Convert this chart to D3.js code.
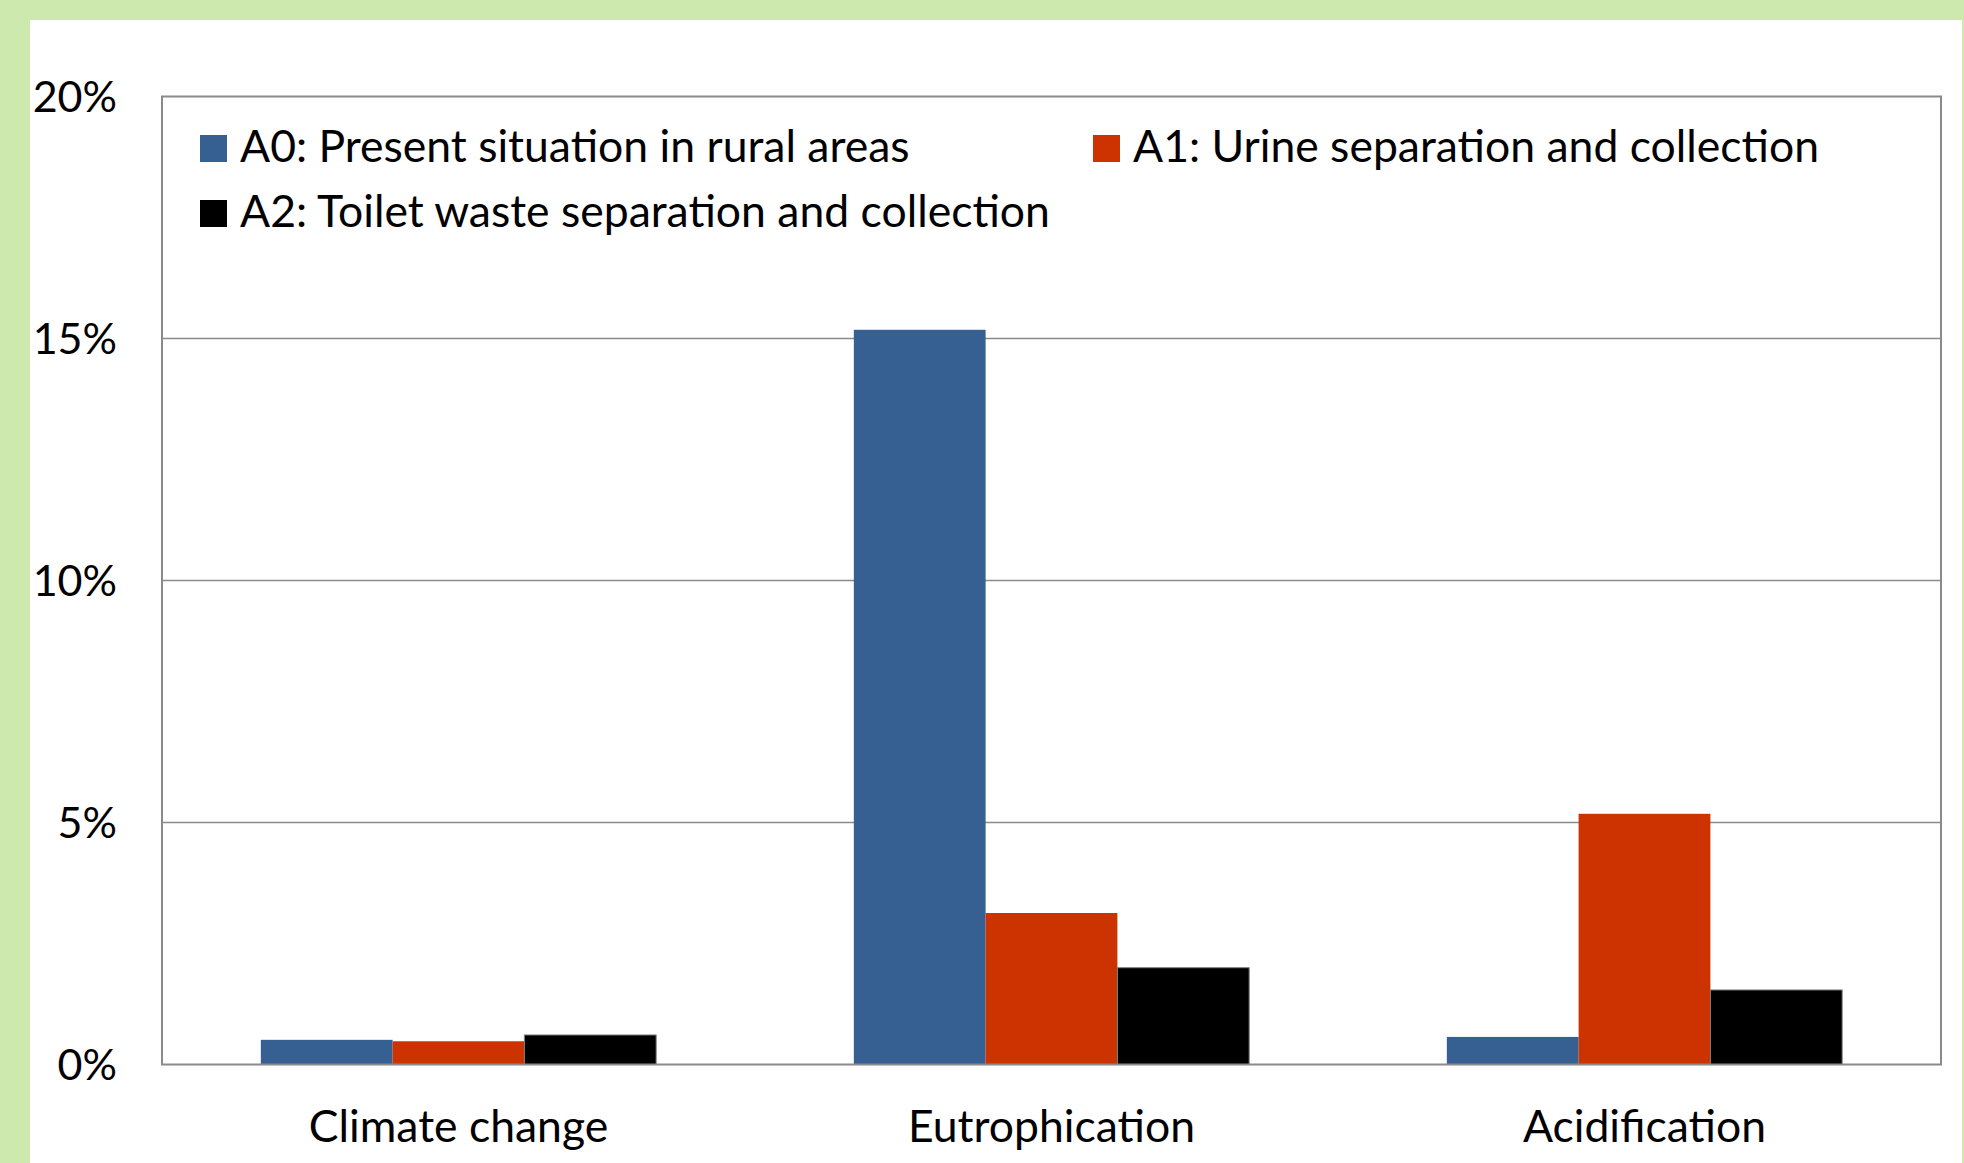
<!DOCTYPE html>
<html>
<head>
<meta charset="utf-8">
<script src="https://cdn.jsdelivr.net/npm/d3@7"></script>
<style>
  html, body { margin: 0; padding: 0; background: #cde9ae; }
  svg { display: block; }
  text { font-family: Lato, "Open Sans", sans-serif; fill: #000; }
</style>
</head>
<body>
<svg id="chart" width="1964" height="1163"></svg>
<script>
// Impact categories on the x axis
const categories = ["Climate change", "Eutrophication", "Acidification"];

// Scenario series (share of impact, %)
const seriesNames = [
  "A0: Present situation in rural areas",
  "A1: Urine separation and collection",
  "A2: Toilet waste separation and collection"
];
const seriesColors = ["#376092", "#cc3300", "#000000"];
const a0Values = [0.51, 15.18, 0.57];
const a1Values = [0.48, 3.13, 5.18];
const a2Values = [0.61, 2.00, 1.54];

// Y axis ticks
const yTicks = [0, 5, 10, 15, 20];

const seriesValues = [a0Values, a1Values, a2Values];
const rows = categories.map((c, i) => ({
  category: c,
  values: seriesNames.map((s, j) => ({ series: s, idx: j, value: seriesValues[j][i] }))
}));

const svg = d3.select("#chart");

// white chart panel on the green page
svg.append("rect")
  .attr("x", 30).attr("y", 20)
  .attr("width", 1932).attr("height", 1163)
  .attr("fill", "#ffffff");

const plot = { left: 162, right: 1941, top: 96.5, bottom: 1064.5 };

const x0 = d3.scaleBand()
  .domain(categories)
  .range([plot.left, plot.right])
  .padding(0);

const x1 = d3.scaleBand()
  .domain(d3.range(seriesNames.length))
  .range([0, x0.bandwidth()])
  .paddingInner(0)
  .paddingOuter(0.75);

const y = d3.scaleLinear()
  .domain([0, 20])
  .range([plot.bottom, plot.top]);

// gridlines
svg.append("g")
  .selectAll("line")
  .data(yTicks.filter(t => t > 0 && t < 20))
  .join("line")
  .attr("x1", plot.left).attr("x2", plot.right)
  .attr("y1", d => y(d)).attr("y2", d => y(d))
  .attr("stroke", "#8a8a8a")
  .attr("stroke-width", 1.5);

// y tick labels
const yAxis = d3.axisLeft(y)
  .tickValues(yTicks)
  .tickSize(0)
  .tickPadding(45)
  .tickFormat(d => d + "%");

const yg = svg.append("g")
  .attr("transform", `translate(${plot.left},0)`)
  .call(yAxis);
yg.select(".domain").remove();
yg.selectAll("text")
  .style("font-family", "Lato, 'Open Sans', sans-serif")
  .style("font-size", "43px")
  .attr("fill", "#000")
  .attr("dy", "0.36em");

// bars
const groups = svg.append("g")
  .selectAll("g")
  .data(rows)
  .join("g")
  .attr("transform", d => `translate(${x0(d.category)},0)`);

groups.selectAll("rect")
  .data(d => d.values)
  .join("rect")
  .attr("x", d => x1(d.idx))
  .attr("width", x1.bandwidth())
  .attr("y", d => y(d.value))
  .attr("height", d => y(0) - y(d.value))
  .attr("fill", d => seriesColors[d.idx])
  .attr("stroke", d => d.idx === 2 ? "#7f7f7f" : "none")
  .attr("stroke-width", 1);

// plot frame
svg.append("rect")
  .attr("x", plot.left).attr("y", plot.top)
  .attr("width", plot.right - plot.left)
  .attr("height", plot.bottom - plot.top)
  .attr("fill", "none")
  .attr("stroke", "#8a8a8a")
  .attr("stroke-width", 2);

// category labels
const xAxis = d3.axisBottom(x0).tickSize(0).tickPadding(0);
const xg = svg.append("g")
  .attr("transform", `translate(0,${plot.bottom})`)
  .call(xAxis);
xg.select(".domain").remove();
xg.selectAll("text")
  .style("font-family", "Lato, 'Open Sans', sans-serif")
  .style("font-size", "44.5px")
  .attr("fill", "#000")
  .attr("dy", null)
  .attr("y", 77);

// legend
const legendItems = [
  { idx: 0, x: 200, y: 135 },
  { idx: 1, x: 1093, y: 135 },
  { idx: 2, x: 200, y: 200 }
];
const lg = svg.append("g")
  .selectAll("g")
  .data(legendItems)
  .join("g")
  .attr("transform", d => `translate(${d.x},${d.y})`);
lg.append("rect")
  .attr("width", 27).attr("height", 27)
  .attr("fill", d => seriesColors[d.idx]);
lg.append("text")
  .attr("x", 40)
  .attr("y", 27)
  .style("font-size", "44.5px")
  .text(d => seriesNames[d.idx]);
</script>
</body>
</html>
